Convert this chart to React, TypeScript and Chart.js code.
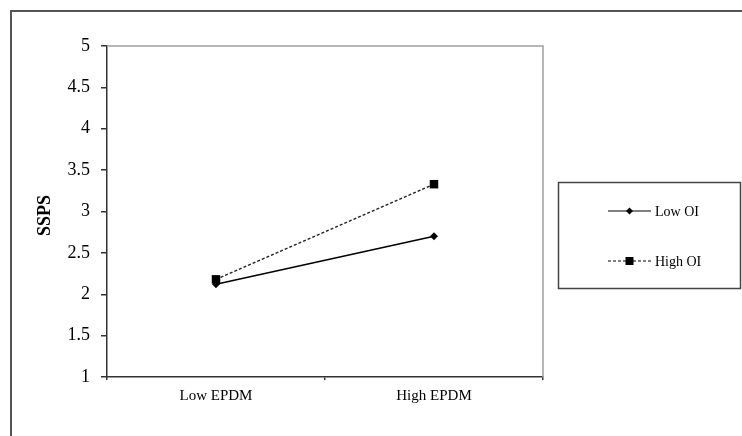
import React, { useEffect, useRef } from "react";
import { Chart, registerables } from "chart.js";

Chart.register(...registerables);

const categories = ["Low EPDM", "High EPDM"];
const seriesNames = ["Low OI", "High OI"];
const lowOI = [2.12, 2.7];
const highOI = [2.18, 3.33];
const yMin = 1;
const yMax = 5;
const yStep = 0.5;
const yTitle = "SSPS";

const FONT = "'Liberation Serif', 'Times New Roman', serif";

const decorPlugin = {
  id: "decor",
  beforeDraw(chart: any) {
    const ctx = chart.ctx;
    ctx.save();
    ctx.fillStyle = "#fff";
    ctx.fillRect(0, 0, chart.width, chart.height);
    ctx.strokeStyle = "#555";
    ctx.lineWidth = 2;
    ctx.strokeRect(11, 11, 800, 500);
    ctx.restore();
  },
  afterDraw(chart: any) {
    const ctx = chart.ctx;
    const { left, top, right, bottom } = chart.chartArea;
    ctx.save();
    ctx.strokeStyle = "#a0a0a0";
    ctx.lineWidth = 1.5;
    ctx.beginPath();
    ctx.moveTo(left, top);
    ctx.lineTo(right, top);
    ctx.lineTo(right, bottom);
    ctx.stroke();

    ctx.save();
    ctx.translate(45, (top + bottom) / 2 + 4);
    ctx.rotate(-Math.PI / 2);
    ctx.fillStyle = "#000";
    ctx.font = `bold 18px ${FONT}`;
    ctx.textAlign = "center";
    ctx.textBaseline = "middle";
    ctx.fillText(yTitle, 0, 0);
    ctx.restore();

    ctx.strokeStyle = "#444";
    ctx.lineWidth = 1.5;
    ctx.strokeRect(558.5, 182.5, 182, 106);
    chart.data.datasets.forEach((ds: any, i: number) => {
      const y = 211 + i * 50;
      ctx.strokeStyle = "#000";
      ctx.lineWidth = 1.2;
      ctx.setLineDash(ds.borderDash || []);
      ctx.beginPath();
      ctx.moveTo(608, y);
      ctx.lineTo(651, y);
      ctx.stroke();
      ctx.setLineDash([]);
      ctx.fillStyle = "#000";
      if (ds.pointStyle === "rect") {
        ctx.fillRect(625.5, y - 4, 8, 8);
      } else {
        ctx.beginPath();
        ctx.moveTo(629.5, y - 3.5);
        ctx.lineTo(633, y);
        ctx.lineTo(629.5, y + 3.5);
        ctx.lineTo(626, y);
        ctx.closePath();
        ctx.fill();
      }
      ctx.font = `14px ${FONT}`;
      ctx.textAlign = "left";
      ctx.textBaseline = "middle";
      ctx.fillText(ds.label, 655, y + 1);
    });
    ctx.restore();
  },
};

export default function App() {
  const ref = useRef<HTMLCanvasElement>(null);
  useEffect(() => {
    document.body.style.margin = "0";
    const chart = new Chart(ref.current!, {
      type: "line",
      data: {
        labels: categories,
        datasets: [
          {
            label: seriesNames[0],
            data: lowOI,
            borderColor: "#000",
            backgroundColor: "#000",
            borderWidth: 1.5,
            pointStyle: "rectRot",
            pointRadius: 4,
            pointBorderWidth: 0,
          },
          {
            label: seriesNames[1],
            data: highOI,
            borderColor: "#222",
            backgroundColor: "#000",
            borderWidth: 1.5,
            borderDash: [3, 2],
            pointStyle: "rect",
            pointRadius: 6,
            pointBorderWidth: 0,
          },
        ],
      },
      options: {
        animation: false,
        responsive: false,
        maintainAspectRatio: false,
        layout: { padding: { left: 0, top: 46, right: 199, bottom: 0 } },
        plugins: { legend: { display: false }, tooltip: { enabled: false } },
        scales: {
          x: {
            offset: true,
            afterFit: (s: any) => {
              s.height = 59;
            },
            grid: {
              offset: true,
              drawOnChartArea: false,
              drawTicks: true,
              tickLength: 3,
              color: "#333",
              lineWidth: 1.5,
            },
            border: { display: true, color: "#333", width: 1.5 },
            ticks: {
              color: "#000",
              font: { family: FONT, size: 15 },
              padding: 7,
              maxRotation: 0,
            },
          },
          y: {
            min: yMin,
            max: yMax,
            afterFit: (s: any) => {
              s.width = 107;
            },
            grid: {
              drawOnChartArea: false,
              drawTicks: true,
              tickLength: 6,
              color: "#333",
              lineWidth: 1.5,
            },
            border: { display: true, color: "#333", width: 1.5 },
            ticks: {
              stepSize: yStep,
              color: "#000",
              font: { family: FONT, size: 18 },
              padding: 11,
              callback: (v: any) => String(Number(v)),
            },
          },
        },
      },
      plugins: [decorPlugin],
    });
    return () => chart.destroy();
  }, []);
  return (
    <div style={{ position: "absolute", left: 0, top: 0 }}>
      <canvas ref={ref} width={742} height={436} style={{ display: "block", width: 742, height: 436 }} />
    </div>
  );
}
